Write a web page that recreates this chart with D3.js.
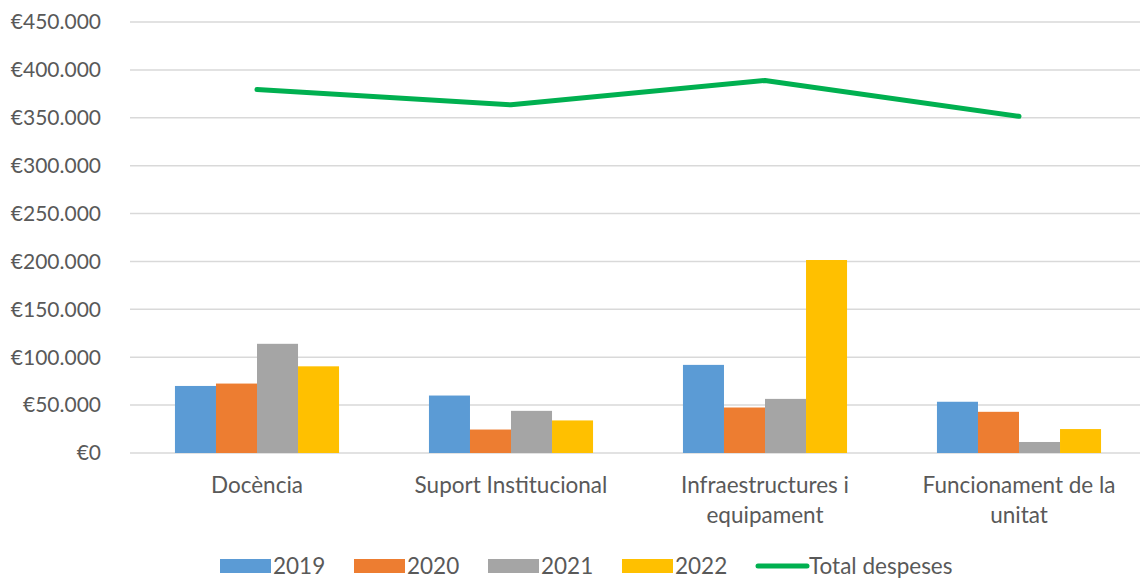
<!DOCTYPE html>
<html>
<head>
<meta charset="utf-8">
<script src="https://cdn.jsdelivr.net/npm/d3@7"></script>
<style>
  body { margin: 0; background: #fff; }
  text { font-family: Lato, "Open Sans", sans-serif; fill: #595959; }
</style>
</head>
<body>
<div id="vis"></div>
<script>
// dades
const categories = ["Docència", "Suport Institucional", "Infraestructures i equipament", "Funcionament de la unitat"];
const years = ["2019", "2020", "2021", "2022"];
const v2019 = [70000, 60000, 92000, 53500];
const v2020 = [72500, 24500, 47500, 43000];
const v2021 = [114000, 44000, 56500, 11500];
const v2022 = [90500, 34000, 201500, 25000];
const totalDespeses = [379500, 363500, 389000, 351500];
const yTicks = [0, 50000, 100000, 150000, 200000, 250000, 300000, 350000, 400000, 450000];

const colors = ["#5B9BD5", "#ED7D31", "#A5A5A5", "#FFC000"];
const lineColor = "#00B050";

const width = 1140;
const height = 580;
const margin = { top: 22, right: -6, bottom: 127, left: 130 };

const svg = d3.select("#vis")
  .append("svg")
  .attr("width", width)
  .attr("height", height);

const x = d3.scaleBand()
  .domain(categories)
  .range([margin.left, width - margin.right])
  .paddingInner(0.354)
  .paddingOuter(0.177);

const xYear = d3.scaleBand()
  .domain(years)
  .range([0, x.bandwidth()]);

const y = d3.scaleLinear()
  .domain([0, 450000])
  .range([height - margin.bottom, margin.top]);

const locale = d3.formatLocale({
  decimal: ",",
  thousands: ".",
  grouping: [3],
  currency: ["€", ""]
});
const fmt = locale.format("$,.0f");

// línies de la graella
svg.append("g")
  .selectAll("line")
  .data(yTicks)
  .enter()
  .append("line")
  .attr("x1", margin.left)
  .attr("x2", width - margin.right)
  .attr("y1", d => y(d))
  .attr("y2", d => y(d))
  .style("stroke", "#d9d9d9")
  .style("stroke-width", 1.5);

// etiquetes eix Y
svg.append("g")
  .selectAll("text")
  .data(yTicks)
  .enter()
  .append("text")
  .attr("x", 101)
  .attr("y", d => y(d))
  .attr("dy", "0.35em")
  .attr("text-anchor", "end")
  .style("font-size", "21px")
  .text(d => fmt(d));

// barres
const series = [v2019, v2020, v2021, v2022];
series.forEach((values, s) => {
  svg.append("g")
    .selectAll("rect")
    .data(values)
    .enter()
    .append("rect")
    .attr("x", (d, i) => x(categories[i]) + xYear(years[s]))
    .attr("y", d => y(d))
    .attr("width", xYear.bandwidth())
    .attr("height", d => y(0) - y(d))
    .style("fill", colors[s]);
});

// línia total
const line = d3.line()
  .x((d, i) => x(categories[i]) + x.bandwidth() / 2)
  .y(d => y(d));

svg.append("path")
  .datum(totalDespeses)
  .attr("d", line)
  .style("fill", "none")
  .style("stroke", lineColor)
  .style("stroke-width", 5)
  .style("stroke-linecap", "round")
  .style("stroke-linejoin", "round");

// etiquetes eix X (amb salt de línia)
function wrapWords(label, maxWidth, size) {
  const tmp = svg.append("text").style("font-size", size + "px");
  const words = label.split(" ");
  const lines = [];
  let current = [];
  words.forEach(w => {
    const test = current.concat([w]).join(" ");
    tmp.text(test);
    if (tmp.node().getComputedTextLength() > maxWidth && current.length) {
      lines.push(current.join(" "));
      current = [w];
    } else {
      current.push(w);
    }
  });
  lines.push(current.join(" "));
  tmp.remove();
  return lines;
}

categories.forEach(cat => {
  const lines = wrapWords(cat, 230, 22.5);
  const t = svg.append("text")
    .attr("text-anchor", "middle")
    .style("font-size", "22.5px");
  lines.forEach((l, k) => {
    t.append("tspan")
      .attr("x", x(cat) + x.bandwidth() / 2)
      .attr("y", 493 + k * 30)
      .text(l);
  });
});

// llegenda
const legendY = 566;
const legendItems = [
  { label: "2019", x: 220, type: "rect", color: colors[0] },
  { label: "2020", x: 354, type: "rect", color: colors[1] },
  { label: "2021", x: 488, type: "rect", color: colors[2] },
  { label: "2022", x: 622, type: "rect", color: colors[3] },
  { label: "Total despeses", x: 756, type: "line", color: lineColor }
];

const legend = svg.selectAll("g.legend")
  .data(legendItems)
  .enter()
  .append("g")
  .attr("class", "legend");

legend.filter(d => d.type === "rect")
  .append("rect")
  .attr("x", d => d.x)
  .attr("y", legendY - 7)
  .attr("width", 51)
  .attr("height", 14)
  .style("fill", d => d.color);

legend.filter(d => d.type === "line")
  .append("line")
  .attr("x1", d => d.x + 2)
  .attr("x2", d => d.x + 51)
  .attr("y1", legendY)
  .attr("y2", legendY)
  .style("stroke", d => d.color)
  .style("stroke-width", 5)
  .style("stroke-linecap", "round");

legend.append("text")
  .attr("x", d => d.x + 53)
  .attr("y", legendY)
  .attr("dy", "0.35em")
  .style("font-size", "22.5px")
  .text(d => d.label);
</script>
</body>
</html>
